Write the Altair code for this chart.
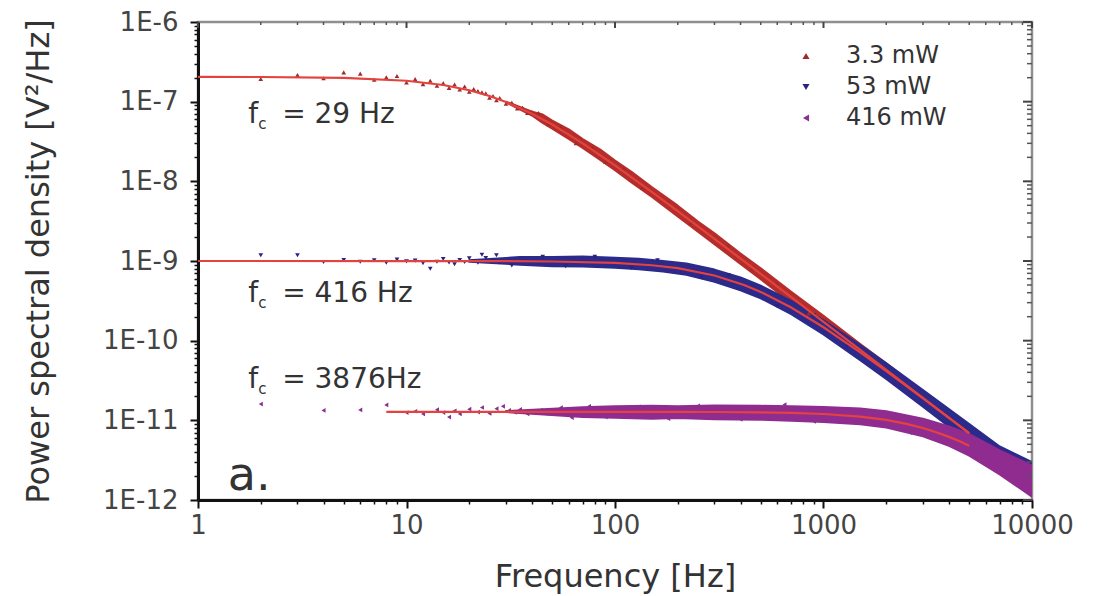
import altair as alt
import pandas as pd

# ---------------- data ----------------
SERIES = ["3.3 mW", "53 mW", "416 mW"]
PT_COLORS = ["#9e2d2a", "#28247e", "#88308f"]
BAND_COLORS = ["#b52e2b", "#2c2a8a", "#902c90"]
FIT_COLOR = "#e4423e"

# scattered points (frequency Hz, PSD V^2/Hz)
S1_F = [2, 3, 4, 5, 6, 7, 8, 9, 10, 11, 12, 13, 14, 15, 16, 17, 18, 19, 20, 21, 22, 23, 24, 25, 26, 27, 28, 30, 32, 34, 36, 38, 40,
        43, 48, 55, 65, 78, 90, 110, 135, 180, 230, 350, 450, 600, 850]
S1_P = [1.93e-7, 2.16e-7, 1.97e-7, 2.33e-7, 2.25e-7, 1.88e-7, 2.02e-7, 2.10e-7, 1.74e-7, 1.92e-7, 1.66e-7, 1.83e-7, 1.58e-7,
        1.71e-7, 1.49e-7, 1.64e-7, 1.42e-7, 1.55e-7, 1.33e-7, 1.44e-7, 1.36e-7, 1.31e-7, 1.27e-7, 1.12e-7, 1.18e-7, 1.04e-7,
        1.11e-7, 0.94e-7, 0.97e-7, 0.82e-7, 0.84e-7, 0.72e-7, 0.74e-7,
        7.2e-8, 5.2e-8, 4.8e-8, 3.0e-8, 2.7e-8, 1.75e-8, 1.45e-8, 8.3e-9, 5.6e-9, 3.0e-9, 1.55e-9, 7.9e-10, 5.2e-10, 2.2e-10]

S2_F = [2, 3, 4, 5, 6, 7, 8, 9, 10, 11, 12, 13, 14, 15, 16, 17, 18, 19, 20, 21, 22, 23, 24, 26, 28,
        27, 32, 45, 58, 80, 120, 160, 260, 350, 600, 900, 1300]
S2_P = [1.18e-9, 1.18e-9, 0.97e-9, 1.03e-9, 0.98e-9, 1.02e-9, 0.95e-9, 1.04e-9, 0.99e-9, 1.01e-9, 0.94e-9, 0.80e-9,
        0.98e-9, 1.06e-9, 0.96e-9, 0.91e-9, 1.03e-9, 0.97e-9, 1.08e-9, 1.00e-9, 0.95e-9, 1.20e-9, 1.09e-9, 1.02e-9, 0.96e-9,
        1.18e-9, 0.88e-9, 1.13e-9, 0.86e-9, 1.13e-9, 0.82e-9, 1.02e-9, 0.62e-9, 0.66e-9, 0.27e-9, 0.21e-9, 0.085e-9]

S3_F = [2, 4, 6, 8, 10, 11, 12, 14, 15, 16, 17, 18, 20, 22, 23, 25, 27, 29, 31, 33, 35, 38, 41, 44, 47, 50,
        55, 62, 75, 90, 130, 180, 250, 400, 650, 900, 1700, 2600]
S3_P = [1.6e-11, 1.33e-11, 1.35e-11, 1.56e-11, 1.25e-11, 1.3e-11, 1.2e-11, 1.36e-11, 1.25e-11, 1.1e-11, 1.32e-11, 1.2e-11,
        1.38e-11, 1.27e-11, 1.45e-11, 1.22e-11, 1.4e-11, 1.5e-11, 1.33e-11, 1.26e-11, 1.37e-11, 1.2e-11, 1.3e-11, 1.34e-11,
        1.22e-11, 1.31e-11,
        1.45e-11, 1.08e-11, 1.5e-11, 1.1e-11, 1.48e-11, 1.05e-11, 1.52e-11, 1.03e-11, 1.58e-11, 0.97e-11, 1.3e-11, 0.7e-11]

# dense part of the data: upper / lower edges of the point cloud
B1_F = [30, 40, 45, 50, 60, 70, 85, 100, 120, 150, 200, 250, 300, 400, 500, 700, 1000, 1500, 2000, 3000, 5000, 7000, 10000]
B1_HI = [1.0e-7, 7.5e-8, 6.9e-8, 5.8e-8, 4.5e-8, 3.4e-8, 2.5e-8, 1.82e-8, 1.32e-8, 8.5e-9, 4.95e-9, 3.12e-9, 2.22e-9,
         1.24e-9, 8.1e-10, 4.1e-10, 2.05e-10, 9.1e-11, 5.2e-11, 2.3e-11, 8.6e-12, 4.4e-12, 2.3e-12]
B1_LO = [0.98e-7, 6.7e-8, 5.4e-8, 4.6e-8, 3.4e-8, 2.62e-8, 1.86e-8, 1.38e-8, 0.97e-8, 6.4e-9, 3.62e-9, 2.34e-9, 1.62e-9,
         0.92e-9, 5.9e-10, 3.0e-10, 1.45e-10, 6.3e-11, 3.55e-11, 1.55e-11, 5.5e-12, 2.8e-12, 1.25e-12]

B2_F = [20, 35, 50, 70, 100, 130, 170, 220, 300, 400, 500, 700, 1000, 1500, 2000, 3000, 5000, 7000, 10000]
B2_HI = [1.02e-9, 1.12e-9, 1.12e-9, 1.14e-9, 1.1e-9, 1.07e-9, 1.0e-9, 0.93e-9, 0.78e-9, 0.62e-9, 0.49e-9, 0.315e-9,
         0.18e-9, 0.088e-9, 0.052e-9, 0.024e-9, 0.009e-9, 0.0047e-9, 0.003e-9]
B2_LO = [0.98e-9, 0.9e-9, 0.86e-9, 0.85e-9, 0.82e-9, 0.79e-9, 0.74e-9, 0.67e-9, 0.55e-9, 0.43e-9, 0.34e-9, 0.215e-9,
         0.12e-9, 0.057e-9, 0.033e-9, 0.0148e-9, 0.0053e-9, 0.0027e-9, 0.0012e-9]

B3_F = [30, 70, 100, 150, 200, 300, 500, 700, 1000, 1500, 2000, 3000, 4000, 5000, 7000, 10000]
B3_HI = [1.31e-11, 1.46e-11, 1.5e-11, 1.52e-11, 1.5e-11, 1.53e-11, 1.52e-11, 1.5e-11, 1.47e-11, 1.41e-11, 1.3e-11,
         1.05e-11, 0.84e-11, 0.67e-11, 0.42e-11, 0.27e-11]
B3_LO = [1.27e-11, 1.1e-11, 1.08e-11, 1.05e-11, 1.07e-11, 1.03e-11, 1.02e-11, 0.99e-11, 0.95e-11, 0.89e-11, 0.81e-11,
         0.63e-11, 0.48e-11, 0.36e-11, 0.21e-11, 0.11e-11]

# fitted Lorentzian curves (red lines)
F1_F = [1, 2, 5, 10, 15, 20, 25, 30, 40, 50, 70, 100, 150, 200, 300, 500, 700, 1000, 1500, 2000, 3000, 5000]
F1_P = [2.05e-7, 2.04e-7, 1.99e-7, 1.83e-7, 1.62e-7, 1.39e-7, 1.18e-7, 9.90e-8, 7.06e-8, 5.16e-8, 3.00e-8, 1.59e-8,
        7.39e-9, 4.22e-9, 1.90e-9, 6.87e-10, 3.51e-10, 1.72e-10, 7.66e-11, 4.31e-11, 1.92e-11, 6.90e-12]
F2_F = [1, 10, 30, 50, 100, 150, 200, 300, 416, 500, 700, 1000, 1500, 2000, 3000, 5000]
F2_P = [1.0e-9, 9.99e-10, 9.95e-10, 9.86e-10, 9.45e-10, 8.85e-10, 8.12e-10, 6.58e-10, 5.0e-10, 4.09e-10, 2.61e-10,
        1.475e-10, 7.14e-11, 4.15e-11, 1.886e-11, 6.87e-12]
F3_F = [8, 20, 50, 100, 200, 300, 500, 700, 1000, 1500, 2000, 2500, 3000, 3500, 4000, 4500, 5000]
F3_P = [1.28e-11, 1.28e-11, 1.279e-11, 1.279e-11, 1.277e-11, 1.272e-11, 1.259e-11, 1.24e-11, 1.20e-11, 1.113e-11,
        1.011e-11, 9.04e-12, 8.00e-12, 7.05e-12, 6.20e-12, 5.45e-12, 4.80e-12]

# annotations
ANN_TEXT = ["= 29 Hz", "= 416 Hz", "= 3876Hz"]
ANN_F = [1.74, 1.74, 1.74]
ANN_P = [5.4e-8, 3.06e-10, 2.55e-11]

# axis ticks
X_MAJOR = [1, 10, 100, 1000, 10000]
X_MINOR = [m * d for d in [1, 10, 100, 1000] for m in range(2, 10)]
Y_MAJOR = [1e-12, 1e-11, 1e-10, 1e-9, 1e-8, 1e-7, 1e-6]
Y_MINOR = [m * 10.0 ** e for e in range(-12, -6) for m in range(2, 10)]

# ---------------- chart ----------------
W, H = 834, 478
FONT = "DejaVu Sans"

pts = pd.concat([
    pd.DataFrame({"f": S1_F, "psd": S1_P, "series": SERIES[0]}),
    pd.DataFrame({"f": S2_F, "psd": S2_P, "series": SERIES[1]}),
    pd.DataFrame({"f": S3_F, "psd": S3_P, "series": SERIES[2]}),
])

xscale = alt.Scale(type="log", domain=[1, 10000], nice=False)
yscale = alt.Scale(type="log", domain=[1e-12, 1e-6], nice=False)

MAJOR_TEST = "abs(log(datum.value)/LN10 - round(log(datum.value)/LN10)) < 1e-6"

common_axis = dict(
    tickSize={"condition": {"test": MAJOR_TEST, "value": 8}, "value": 4},
    tickWidth={"condition": {"test": MAJOR_TEST, "value": 2}, "value": 1.5},
    tickColor="#111",
    domainColor="#111",
    domainWidth=3,
    grid=False,
    labelFont=FONT,
    labelFontSize=26,
    labelColor="#444",
    labelFlush=False,
    labelOverlap=False,
    titleFont=FONT,
    titleFontSize=32,
    titleFontWeight="normal",
    titleColor="#333",
    titleBaseline="alphabetic",
)
xaxis = alt.Axis(
    title="Frequency [Hz]",
    values=sorted(X_MAJOR + X_MINOR),
    labelExpr=f"({MAJOR_TEST}) ? '' + round(datum.value) : ''",
    labelPadding=4,
    titleY=86,
    **common_axis,
)
yaxis = alt.Axis(
    title="Power spectral density [V²/Hz]",
    values=sorted(Y_MAJOR + Y_MINOR),
    labelExpr=f"({MAJOR_TEST}) ? '1E' + round(log(datum.value)/LN10) : ''",
    labelPadding=12,
    labelBaseline="middle",
    titleX=-150,
    titleY=H / 2,
    **common_axis,
)

X = lambda field: alt.X(field, type="quantitative", scale=xscale, axis=xaxis)
Y = lambda field: alt.Y(field, type="quantitative", scale=yscale, axis=yaxis)

layers = []

# dense point clouds as bands
for bf, hi, lo, col in [(B1_F, B1_HI, B1_LO, BAND_COLORS[0]),
                        (B2_F, B2_HI, B2_LO, BAND_COLORS[1]),
                        (B3_F, B3_HI, B3_LO, BAND_COLORS[2])]:
    d = pd.DataFrame({"f": bf, "psd": hi, "lo": lo})
    layers.append(
        alt.Chart(d).mark_area(color=col, stroke=col, strokeWidth=2, strokeJoin="round",
                               opacity=1, clip=True, interpolate="linear")
        .encode(x=X("f"), y=Y("psd"), y2="lo:Q")
    )

# scattered points + legend
legend_expr = ("datum.label == '53 mW' ? '\u00a0\u00a053 mW' : "
               "(datum.label == '3.3 mW' ? '\u00a03.3 mW' : datum.label)")
leg = alt.Legend(title=None, orient="none", legendX=596, legendY=22,
                 labelFont=FONT, labelFontSize=24, labelColor="#333",
                 labelOffset=28, rowPadding=7, symbolSize=50,
                 symbolStrokeWidth=0, padding=0, labelExpr=legend_expr)
layers.append(
    alt.Chart(pts).mark_point(filled=True, size=22, opacity=1, clip=True)
    .encode(
        x=X("f"), y=Y("psd"),
        color=alt.Color("series:N", scale=alt.Scale(domain=SERIES, range=PT_COLORS), legend=leg),
        shape=alt.Shape("series:N", scale=alt.Scale(domain=SERIES,
                                                     range=["triangle-up", "triangle-down", "triangle-left"]),
                        legend=leg),
    )
)

# fitted curves
for ff, fp in [(F1_F, F1_P), (F2_F, F2_P), (F3_F, F3_P)]:
    d = pd.DataFrame({"f": ff, "psd": fp})
    layers.append(
        alt.Chart(d).mark_line(color=FIT_COLOR, strokeWidth=2.2, clip=True)
        .encode(x=X("f"), y=Y("psd"))
    )

# annotations f_c = ...
ann = pd.DataFrame({"f": ANN_F, "psd": ANN_P, "rest": ANN_TEXT, "fch": ["f"] * 3, "sub": ["c"] * 3})
txt = dict(font=FONT, color="#333", align="left", baseline="alphabetic")
layers.append(alt.Chart(ann).mark_text(fontSize=28, **txt).encode(x=X("f"), y=Y("psd"), text="fch:N"))
layers.append(alt.Chart(ann).mark_text(fontSize=15, dx=10, dy=6, **txt).encode(x=X("f"), y=Y("psd"), text="sub:N"))
layers.append(alt.Chart(ann).mark_text(fontSize=28, dx=34, **txt).encode(x=X("f"), y=Y("psd"), text="rest:N"))

# panel label
panel = pd.DataFrame({"f": [1.39], "psd": [1.34e-12], "t": ["a."]})
layers.append(alt.Chart(panel).mark_text(fontSize=46, **txt).encode(x=X("f"), y=Y("psd"), text="t:N"))

# mirrored ticks on the top and right frame
xmaj = pd.DataFrame({"f": X_MAJOR})
xmin = pd.DataFrame({"f": X_MINOR})
ymaj = pd.DataFrame({"psd": Y_MAJOR})
ymin = pd.DataFrame({"psd": Y_MINOR})
layers.append(alt.Chart(ymaj).mark_rule(color="#444", strokeWidth=2)
              .encode(y=Y("psd"), x=alt.value(W), x2=alt.value(W - 9)))
layers.append(alt.Chart(ymin).mark_rule(color="#555", strokeWidth=1.5)
              .encode(y=Y("psd"), x=alt.value(W), x2=alt.value(W - 5)))
layers.append(alt.Chart(xmaj).mark_rule(color="#444", strokeWidth=2)
              .encode(x=X("f"), y=alt.value(0), y2=alt.value(6)))
layers.append(alt.Chart(xmin).mark_rule(color="#555", strokeWidth=1.5)
              .encode(x=X("f"), y=alt.value(0), y2=alt.value(3)))

chart = (
    alt.layer(*layers)
    .properties(
        width=W, height=H,
        autosize=alt.AutoSizeParams(type="none"),
        padding={"left": 198, "top": 22, "right": 74, "bottom": 96},
        background="white",
    )
    .configure_view(stroke="#8f8f8f", strokeWidth=2.5)
)

chart.save("out.html", embed_options={"renderer": "svg", "actions": False})
